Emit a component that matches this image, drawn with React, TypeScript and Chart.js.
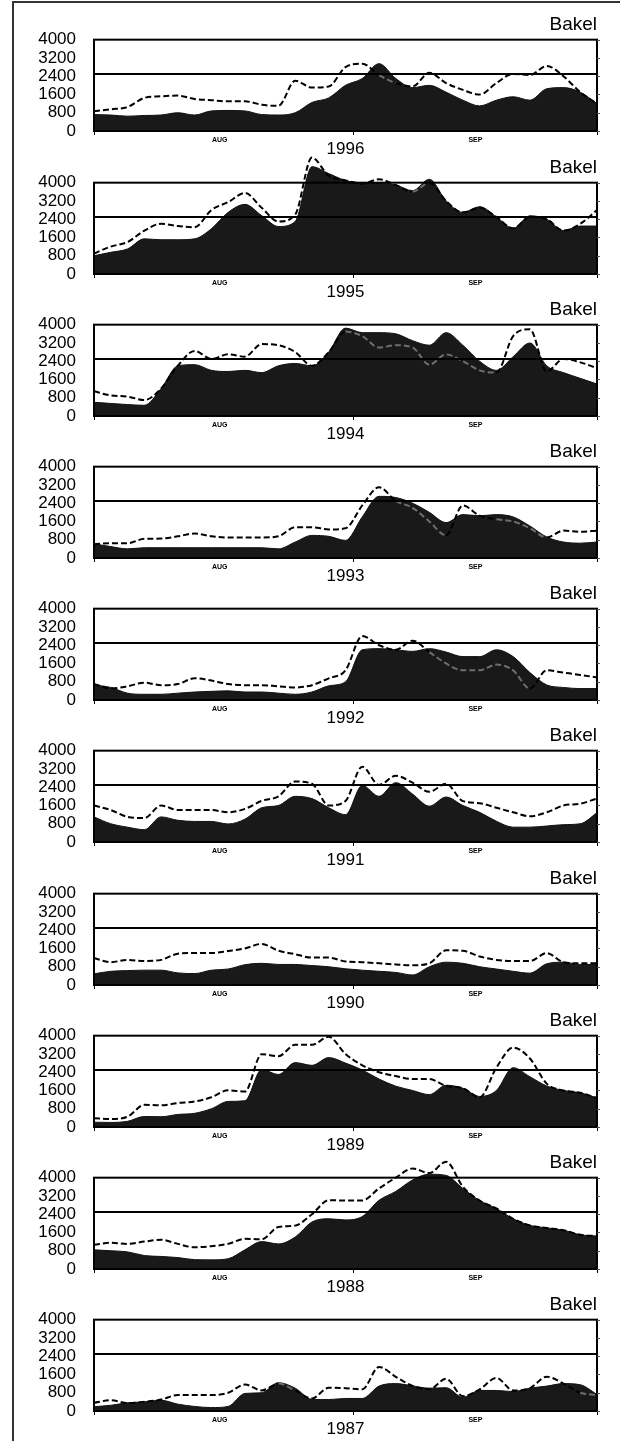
import React, { useEffect, useRef } from 'react';
import { Chart, registerables } from 'chart.js';

Chart.register(...registerables);

const FONT = '"Liberation Sans", Arial, Helvetica, sans-serif';

// Days since 1 August (Aug 1 .. Sep 30), one sample every 2 days
const DAYS = [0, 2, 4, 6, 8, 10, 12, 14, 16, 18, 20, 22, 24, 26, 28, 30, 32, 34, 36, 38, 40, 42, 44, 46, 48, 50, 52, 54, 56, 58, 60];
const MONTH_TICKS = [0, 15, 31, 45.5, 60];
const MONTH_LABELS = ['', 'AUG', '', 'SEP', ''];
const Y_TICKS = [0, 800, 1600, 2400, 3200, 4000];
const FRAME_MAX = 4000;
const Y_MAX = 5300;
const THRESHOLD = 2500;
const STATION = 'Bakel';

// Filled series (observed) and dashed series, per year
const OBSERVED_1996 = [720, 700, 650, 680, 700, 800, 700, 880, 900, 880, 720, 700, 800, 1250, 1450, 2000, 2300, 2950, 2300, 1900, 2000, 1700, 1350, 1100, 1350, 1500, 1350, 1850, 1900, 1700, 1200];
const DASHED_1996 = [870, 950, 1050, 1450, 1520, 1550, 1400, 1350, 1300, 1300, 1150, 1100, 2200, 1900, 1950, 2800, 2950, 2450, 2100, 1950, 2550, 2100, 1800, 1600, 2100, 2500, 2450, 2850, 2400, 1700, 1200];

const OBSERVED_1995 = [800, 950, 1100, 1540, 1500, 1500, 1540, 1980, 2700, 3050, 2560, 2080, 2300, 4700, 4400, 4100, 4000, 4000, 3900, 3650, 4150, 3200, 2700, 2950, 2500, 2000, 2550, 2400, 1900, 2100, 2100];
const DASHED_1995 = [900, 1200, 1400, 1900, 2200, 2100, 2050, 2800, 3150, 3550, 2900, 2300, 2600, 5100, 4300, 4100, 3950, 4150, 3900, 3600, 4000, 3200, 2700, 2900, 2500, 2000, 2500, 2400, 1900, 2200, 2800];

const OBSERVED_1994 = [600, 550, 500, 470, 1200, 2200, 2250, 2000, 1950, 2000, 1900, 2200, 2300, 2200, 2800, 3850, 3650, 3650, 3600, 3300, 3100, 3650, 3100, 2400, 2000, 2600, 3200, 2200, 1900, 1650, 1400];
const DASHED_1994 = [1080, 900, 850, 700, 1200, 2200, 2850, 2500, 2700, 2600, 3150, 3100, 2800, 2200, 2800, 3700, 3500, 3000, 3100, 3000, 2250, 2700, 2400, 2000, 1900, 3500, 3800, 1950, 2500, 2350, 2100];

const OBSERVED_1993 = [620, 500, 400, 450, 450, 450, 450, 450, 450, 450, 450, 400, 700, 990, 950, 770, 1800, 2700, 2650, 2400, 2000, 1550, 1900, 1850, 1900, 1800, 1400, 920, 700, 650, 700];
const DASHED_1993 = [600, 650, 650, 840, 850, 950, 1070, 950, 900, 900, 900, 950, 1350, 1350, 1250, 1300, 2300, 3100, 2500, 2200, 1600, 1000, 2300, 1850, 1700, 1600, 1300, 900, 1200, 1150, 1200];

const OBSERVED_1992 = [660, 550, 300, 250, 250, 300, 350, 380, 400, 350, 350, 300, 250, 350, 620, 800, 2200, 2250, 2200, 2130, 2250, 2100, 1900, 1900, 2200, 1900, 1200, 660, 550, 500, 500];
const DASHED_1992 = [700, 510, 600, 760, 650, 700, 950, 850, 700, 650, 650, 600, 550, 650, 950, 1300, 2800, 2400, 2200, 2600, 2100, 1600, 1300, 1300, 1550, 1300, 500, 1300, 1200, 1100, 985];

const OBSERVED_1991 = [1100, 800, 650, 540, 1100, 950, 900, 900, 790, 1000, 1500, 1600, 2000, 1900, 1500, 1200, 2480, 2000, 2600, 2100, 1570, 1970, 1600, 1300, 910, 650, 650, 700, 760, 800, 1280];
const DASHED_1991 = [1600, 1400, 1100, 1050, 1600, 1400, 1400, 1400, 1300, 1450, 1800, 2000, 2650, 2550, 1600, 1800, 3300, 2500, 2900, 2600, 2200, 2550, 1790, 1700, 1500, 1300, 1130, 1300, 1600, 1680, 1900];

const OBSERVED_1990 = [490, 600, 630, 650, 650, 530, 500, 650, 700, 890, 950, 900, 900, 850, 800, 710, 650, 600, 550, 440, 800, 1000, 950, 800, 700, 600, 520, 930, 1000, 900, 900];
const DASHED_1990 = [1180, 1000, 1100, 1050, 1100, 1370, 1400, 1400, 1490, 1600, 1800, 1500, 1350, 1200, 1200, 1030, 1000, 950, 900, 860, 950, 1520, 1500, 1250, 1100, 1050, 1050, 1400, 1000, 950, 950];

const OBSERVED_1989 = [210, 200, 250, 460, 450, 550, 600, 800, 1120, 1150, 2520, 2300, 2820, 2700, 3040, 2800, 2500, 2100, 1790, 1600, 1420, 1830, 1700, 1340, 1600, 2600, 2200, 1800, 1600, 1500, 1270];
const DASHED_1989 = [380, 350, 450, 970, 950, 1050, 1120, 1300, 1610, 1550, 3190, 3100, 3600, 3600, 3950, 3200, 2700, 2400, 2230, 2100, 2100, 1800, 1700, 1300, 2600, 3480, 3000, 1900, 1600, 1500, 1270];

const OBSERVED_1988 = [840, 800, 750, 590, 550, 500, 410, 400, 450, 840, 1200, 1100, 1400, 2060, 2200, 2150, 2300, 3010, 3400, 3900, 4150, 4100, 3530, 3000, 2650, 2200, 1910, 1800, 1700, 1500, 1440];
const DASHED_1988 = [1060, 1150, 1100, 1200, 1280, 1100, 950, 1000, 1100, 1320, 1300, 1840, 1900, 2400, 3010, 3000, 3000, 3530, 4000, 4400, 4200, 4700, 3600, 3000, 2650, 2200, 1910, 1800, 1700, 1500, 1440];

const OBSERVED_1987 = [190, 250, 360, 400, 470, 300, 200, 150, 200, 770, 800, 1240, 1000, 510, 500, 550, 550, 1090, 1200, 1100, 1000, 1020, 600, 900, 900, 850, 1000, 1090, 1200, 1150, 730];
const DASHED_1987 = [360, 470, 350, 400, 500, 700, 700, 700, 800, 1160, 900, 1200, 900, 550, 1020, 1000, 950, 1930, 1500, 1100, 950, 1410, 650, 950, 1450, 900, 1000, 1500, 1200, 800, 700];

const YEARS = ['1996', '1995', '1994', '1993', '1992', '1991', '1990', '1989', '1988', '1987'];
const OBSERVED = [OBSERVED_1996, OBSERVED_1995, OBSERVED_1994, OBSERVED_1993, OBSERVED_1992, OBSERVED_1991, OBSERVED_1990, OBSERVED_1989, OBSERVED_1988, OBSERVED_1987];
const DASHED = [DASHED_1996, DASHED_1995, DASHED_1994, DASHED_1993, DASHED_1992, DASHED_1991, DASHED_1990, DASHED_1989, DASHED_1988, DASHED_1987];

const PANEL_STEP = 142.2;
const PANEL_TOP = 10.4;
const CANVAS_W = 620;
const CANVAS_H = 148;

const decorPlugin = {
  id: 'panelDecor',
  afterDatasetsDraw(chart: any, _args: any, opts: any) {
    const { ctx, chartArea, scales } = chart;
    const y = scales.y;
    const top = y.getPixelForValue(FRAME_MAX);
    const bottom = y.getPixelForValue(0);
    ctx.save();
    ctx.strokeStyle = '#000';
    ctx.lineWidth = 2;
    ctx.strokeRect(chartArea.left, top, chartArea.right - chartArea.left, bottom - top);
    // small outer ticks on the right-hand frame
    ctx.lineWidth = 1;
    ctx.strokeStyle = '#555';
    Y_TICKS.forEach((v) => {
      const py = Math.round(y.getPixelForValue(v)) + 0.5;
      ctx.beginPath();
      ctx.moveTo(chartArea.right, py);
      ctx.lineTo(chartArea.right + 3, py);
      ctx.stroke();
    });
    ctx.fillStyle = '#000';
    ctx.font = `19px ${FONT}`;
    ctx.textAlign = 'right';
    ctx.textBaseline = 'middle';
    ctx.fillText(opts.station, chartArea.right, 15);
    ctx.restore();
  },
};

function Panel({ index }: { index: number }) {
  const ref = useRef<HTMLCanvasElement | null>(null);
  useEffect(() => {
    const observed = OBSERVED[index];
    const dashed = DASHED[index];
    const chart = new Chart(ref.current as HTMLCanvasElement, {
      type: 'line',
      data: {
        datasets: [
          {
            label: 'threshold',
            data: [
              { x: DAYS[0], y: THRESHOLD },
              { x: DAYS[DAYS.length - 1], y: THRESHOLD },
            ],
            borderColor: '#000',
            borderWidth: 2,
            pointRadius: 0,
            fill: false,
            order: 0,
          },
          {
            label: 'dashed',
            data: DAYS.map((d, i) => ({ x: d, y: dashed[i] })),
            borderColor: '#000',
            borderWidth: 2,
            borderDash: [6, 3],
            pointRadius: 0,
            fill: false,
            cubicInterpolationMode: 'monotone',
            clip: false,
            order: 1,
            segment: {
              borderColor: (c: any) =>
                dashed[c.p0DataIndex] < observed[c.p0DataIndex] && dashed[c.p1DataIndex] < observed[c.p1DataIndex]
                  ? '#6e6e6e'
                  : '#000',
            },
          },
          {
            label: 'observed',
            data: DAYS.map((d, i) => ({ x: d, y: observed[i] })),
            borderColor: '#111',
            borderWidth: 1,
            backgroundColor: '#191919',
            fill: 'origin',
            pointRadius: 0,
            cubicInterpolationMode: 'monotone',
            clip: false,
            order: 2,
          },
        ],
      } as any,
      options: {
        animation: false,
        responsive: false,
        maintainAspectRatio: false,
        events: [],
        layout: { padding: { left: 0, right: 23, top: 0, bottom: 0 } },
        plugins: {
          legend: { display: false },
          tooltip: { enabled: false },
          title: { display: false },
          panelDecor: { station: STATION },
        } as any,
        scales: {
          x: {
            type: 'linear',
            min: DAYS[0],
            max: DAYS[DAYS.length - 1],
            border: { display: false },
            grid: {
              drawOnChartArea: false,
              drawTicks: true,
              tickLength: 4,
              lineWidth: 1,
              tickColor: (ctx: any) => (MONTH_LABELS[ctx.index] === '' ? '#000' : 'rgba(0,0,0,0)'),
            },
            afterBuildTicks: (s: any) => {
              s.ticks = MONTH_TICKS.map((v) => ({ value: v }));
            },
            afterFit: (s: any) => {
              s.height = 27;
              s.paddingLeft = 0;
              s.paddingRight = 0;
            },
            ticks: {
              autoSkip: false,
              maxRotation: 0,
              padding: 1,
              color: '#000',
              font: { family: FONT, size: 7, weight: 'bold' },
              callback: (_v: any, i: number) => MONTH_LABELS[i],
            },
            title: {
              display: true,
              text: YEARS[index],
              color: '#000',
              font: { family: FONT, size: 17, lineHeight: 1 },
              padding: 0,
            },
          },
          y: {
            min: 0,
            max: Y_MAX,
            border: { display: false },
            grid: { display: false },
            afterBuildTicks: (s: any) => {
              s.ticks = Y_TICKS.map((v) => ({ value: v }));
            },
            afterFit: (s: any) => {
              s.width = 94;
              s.paddingTop = 0;
              s.paddingBottom = 0;
            },
            ticks: {
              padding: 10,
              color: '#000',
              font: { family: FONT, size: 17 },
              callback: (v: any) => String(v),
            },
          },
        } as any,
      },
      plugins: [decorPlugin as any],
    });
    return () => chart.destroy();
  }, [index]);

  return (
    <canvas
      ref={ref}
      width={CANVAS_W}
      height={CANVAS_H}
      style={{
        position: 'absolute',
        left: 0,
        top: PANEL_TOP + PANEL_STEP * index,
        width: CANVAS_W,
        height: CANVAS_H,
      }}
    />
  );
}

export default function App() {
  useEffect(() => {
    document.body.style.margin = '0';
    document.body.style.background = '#fff';
  }, []);
  return (
    <div style={{ position: 'relative', width: 620, height: 1441, overflow: 'hidden', background: '#fff' }}>
      <div
        style={{
          position: 'absolute',
          left: 12,
          top: 1,
          width: 620,
          height: 1460,
          borderLeft: '2px solid #333',
          borderTop: '2px solid #333',
        }}
      />
      {YEARS.map((_, i) => (
        <Panel key={i} index={i} />
      ))}
    </div>
  );
}
